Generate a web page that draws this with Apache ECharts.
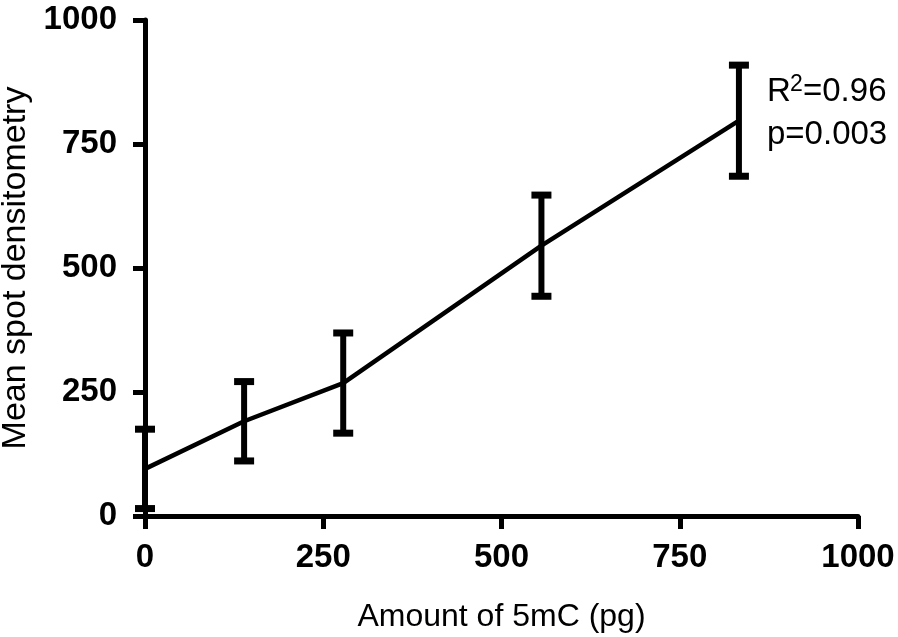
<!DOCTYPE html>
<html>
<head>
<meta charset="utf-8">
<script src="https://cdn.jsdelivr.net/npm/echarts@6/dist/echarts.min.js"></script>
<style>
html,body{margin:0;padding:0;background:#fff;}
#chart{width:898px;height:637px;}
</style>
</head>
<body>
<div id="chart"></div>
<script>
// Data
var amounts = [0, 139, 278, 556, 833];           // Amount of 5mC (pg)
var means = [95, 191, 268, 545, 797];            // Mean spot densitometry
var errors = [80, 80, 101, 102, 112];            // error bar half-length
var xTicks = [0, 250, 500, 750, 1000];
var yTicks = [0, 250, 500, 750, 1000];

var FONT = "'Liberation Sans', Arial, Helvetica, sans-serif";

var lineData = amounts.map(function (x, i) { return [x, means[i]]; });
var errData = amounts.map(function (x, i) { return [x, means[i] - errors[i], means[i] + errors[i]]; });

var chart = echarts.init(document.getElementById('chart'));
chart.setOption({
  animation: false,
  backgroundColor: '#fff',
  grid: { left: 145, top: 20, right: 40, bottom: 121, containLabel: false, outerBoundsMode: 'none' },
  xAxis: {
    type: 'value', min: xTicks[0], max: xTicks[xTicks.length - 1], interval: 250,
    name: 'Amount of 5mC (pg)', nameLocation: 'middle', nameGap: 85,
    nameTextStyle: { fontFamily: FONT, fontSize: 32, color: '#000' },
    axisLine: { onZero: false, lineStyle: { color: '#000', width: 5 } },
    axisTick: { show: true, length: 13, lineStyle: { color: '#000', width: 5 } },
    axisLabel: { fontFamily: FONT, fontSize: 33, fontWeight: 'bold', color: '#000', margin: 25,
      formatter: function (v) { return String(v); } },
    splitLine: { show: false }
  },
  yAxis: {
    type: 'value', min: yTicks[0], max: yTicks[yTicks.length - 1], interval: 250,
    name: 'Mean spot densitometry', nameLocation: 'middle', nameGap: 108, nameRotate: 90,
    nameTextStyle: { fontFamily: FONT, fontSize: 34, color: '#000' },
    axisLine: { onZero: false, lineStyle: { color: '#000', width: 5 } },
    axisTick: { show: true, length: 12, lineStyle: { color: '#000', width: 5 } },
    axisLabel: { fontFamily: FONT, fontSize: 33, fontWeight: 'bold', color: '#000', margin: 28,
      formatter: function (v) { return String(v); } },
    splitLine: { show: false }
  },
  series: [
    {
      type: 'line', data: lineData, symbol: 'none', z: 3,
      lineStyle: { color: '#000', width: 4.5 }
    },
    {
      type: 'custom', data: errData, z: 4, clip: false,
      renderItem: function (params, api) {
        var x = api.value(0);
        var lo = api.coord([x, api.value(1)]);
        var hi = api.coord([x, api.value(2)]);
        var hw = 10;
        var st = { stroke: '#000', lineWidth: 6 };
        var cst = { stroke: '#000', lineWidth: 7 };
        return {
          type: 'group',
          children: [
            { type: 'line', shape: { x1: lo[0], y1: lo[1], x2: hi[0], y2: hi[1] }, style: st },
            { type: 'line', shape: { x1: hi[0] - hw, y1: hi[1], x2: hi[0] + hw, y2: hi[1] }, style: cst },
            { type: 'line', shape: { x1: lo[0] - hw, y1: lo[1], x2: lo[0] + hw, y2: lo[1] }, style: cst }
          ]
        };
      }
    }
  ],
  graphic: [
    { type: 'text', left: 767, top: 75, style: { text: 'R', fontFamily: FONT, fontSize: 33, fill: '#000' } },
    { type: 'text', left: 790, top: 73, style: { text: '2', fontFamily: FONT, fontSize: 23, fill: '#000' } },
    { type: 'text', left: 803, top: 75, style: { text: '=0.96', fontFamily: FONT, fontSize: 33, fill: '#000' } },
    { type: 'text', left: 767, top: 118, style: { text: 'p=0.003', fontFamily: FONT, fontSize: 33, fill: '#000' } }
  ]
});
</script>
</body>
</html>
